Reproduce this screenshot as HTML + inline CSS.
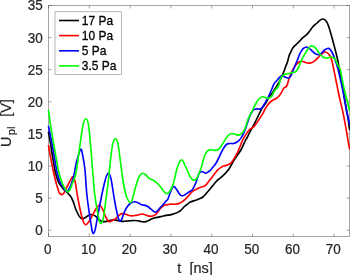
<!DOCTYPE html><html><head><meta charset="utf-8"><style>html,body{margin:0;padding:0;background:#fff;overflow:hidden}svg{display:block;will-change:transform}</style></head><body><svg width="350" height="275" viewBox="0 0 350 275" font-family="Liberation Sans, sans-serif">
<rect width="350" height="275" fill="#fff"/>
<g fill="none" stroke="#262626" stroke-width="0.55" stroke-opacity="0.75">
<path d="M48.5 236.5H349.5M48.5 5.5H349.5M48.5 5.5V236.5M349.5 5.5V236.5"/>
<path d="M48.50 236.5v-3M48.50 5.5v3M89.30 236.5v-3M89.30 5.5v3M130.10 236.5v-3M130.10 5.5v3M170.90 236.5v-3M170.90 5.5v3M211.70 236.5v-3M211.70 5.5v3M252.50 236.5v-3M252.50 5.5v3M293.30 236.5v-3M293.30 5.5v3M334.10 236.5v-3M334.10 5.5v3M48.5 230.20h3M349.5 230.20h-3M48.5 198.10h3M349.5 198.10h-3M48.5 166.00h3M349.5 166.00h-3M48.5 133.90h3M349.5 133.90h-3M48.5 101.80h3M349.5 101.80h-3M48.5 69.70h3M349.5 69.70h-3M48.5 37.60h3M349.5 37.60h-3M48.5 5.50h3M349.5 5.50h-3"/>
</g>
<g fill="none" stroke-width="1.65" stroke-linejoin="round" stroke-linecap="round">
<path stroke="#000" d="M48.50 132.20 C48.75 133.58 49.45 137.20 50.00 140.50 C50.55 143.80 51.22 148.42 51.80 152.00 C52.38 155.58 52.92 158.67 53.50 162.00 C54.08 165.33 54.48 168.67 55.30 172.00 C56.12 175.33 57.48 179.75 58.40 182.00 C59.32 184.25 59.98 184.33 60.80 185.50 C61.62 186.67 62.40 188.03 63.30 189.00 C64.20 189.97 65.42 190.60 66.20 191.30 C66.98 192.00 67.38 192.48 68.00 193.20 C68.62 193.92 69.35 194.88 69.90 195.60 C70.45 196.32 70.73 196.45 71.30 197.50 C71.87 198.55 72.60 200.07 73.30 201.90 C74.00 203.73 75.05 207.18 75.50 208.50 C75.95 209.82 75.40 208.53 76.00 209.80 C76.60 211.07 78.05 214.60 79.10 216.10 C80.15 217.60 81.12 218.67 82.30 218.80 C83.48 218.93 84.78 217.62 86.20 216.90 C87.62 216.18 89.25 214.63 90.80 214.50 C92.35 214.37 94.07 215.18 95.50 216.10 C96.93 217.02 98.10 219.08 99.40 220.00 C100.70 220.92 101.73 221.47 103.30 221.60 C104.87 221.73 107.10 221.10 108.80 220.80 C110.50 220.50 112.13 219.87 113.50 219.80 C114.87 219.73 115.83 220.18 117.00 220.40 C118.17 220.62 119.33 220.95 120.50 221.10 C121.67 221.25 122.85 221.32 124.00 221.30 C125.15 221.28 126.25 221.10 127.40 221.00 C128.55 220.90 129.73 220.78 130.90 220.70 C132.07 220.62 133.23 220.48 134.40 220.50 C135.57 220.52 136.88 220.65 137.90 220.80 C138.92 220.95 139.65 221.23 140.50 221.40 C141.35 221.57 142.12 221.77 143.00 221.80 C143.88 221.83 144.85 221.82 145.80 221.60 C146.75 221.38 147.73 220.93 148.70 220.50 C149.67 220.07 150.53 219.45 151.60 219.00 C152.67 218.55 153.93 218.12 155.10 217.80 C156.27 217.48 157.43 217.35 158.60 217.10 C159.77 216.85 160.87 216.58 162.10 216.30 C163.33 216.02 164.67 215.63 166.00 215.40 C167.33 215.17 168.75 215.17 170.10 214.90 C171.45 214.63 172.75 214.27 174.10 213.80 C175.45 213.33 177.00 212.77 178.20 212.10 C179.40 211.43 180.28 210.70 181.30 209.80 C182.32 208.90 183.28 207.63 184.30 206.70 C185.32 205.77 186.38 204.97 187.40 204.20 C188.42 203.43 189.38 202.65 190.40 202.10 C191.42 201.55 192.48 201.25 193.50 200.90 C194.52 200.55 195.30 200.43 196.50 200.00 C197.70 199.57 199.63 198.80 200.70 198.30 C201.77 197.80 202.17 197.58 202.90 197.00 C203.63 196.42 204.27 195.72 205.10 194.80 C205.93 193.88 207.00 192.55 207.90 191.50 C208.80 190.45 209.67 189.50 210.50 188.50 C211.33 187.50 212.13 186.45 212.90 185.50 C213.67 184.55 214.37 183.65 215.10 182.80 C215.83 181.95 216.55 181.12 217.30 180.40 C218.05 179.68 218.83 179.12 219.60 178.50 C220.37 177.88 221.03 177.47 221.90 176.70 C222.77 175.93 223.93 174.80 224.80 173.90 C225.67 173.00 226.40 172.12 227.10 171.30 C227.80 170.48 228.17 170.30 229.00 169.00 C229.83 167.70 231.10 165.23 232.10 163.50 C233.10 161.77 233.58 160.77 235.00 158.60 C236.42 156.43 238.95 153.35 240.60 150.50 C242.25 147.65 243.82 143.67 244.90 141.50 C245.98 139.33 246.37 138.90 247.10 137.50 C247.83 136.10 248.48 134.65 249.30 133.10 C250.12 131.55 251.08 129.92 252.00 128.20 C252.92 126.48 253.88 124.62 254.80 122.80 C255.72 120.98 256.60 119.13 257.50 117.30 C258.40 115.47 259.45 113.30 260.20 111.80 C260.95 110.30 261.07 109.77 262.00 108.30 C262.93 106.83 264.75 104.63 265.80 103.00 C266.85 101.37 267.35 99.98 268.30 98.50 C269.25 97.02 270.53 95.48 271.50 94.10 C272.47 92.72 273.25 91.48 274.10 90.20 C274.95 88.92 275.70 87.85 276.60 86.40 C277.50 84.95 278.55 83.32 279.50 81.50 C280.45 79.68 281.47 77.43 282.30 75.50 C283.13 73.57 283.85 71.63 284.50 69.90 C285.15 68.17 285.70 66.42 286.20 65.10 C286.70 63.78 287.03 63.52 287.50 62.00 C287.97 60.48 288.50 57.57 289.00 56.00 C289.50 54.43 289.83 53.98 290.50 52.60 C291.17 51.22 292.03 49.07 293.00 47.70 C293.97 46.33 295.13 45.55 296.30 44.40 C297.47 43.25 299.05 41.80 300.00 40.80 C300.95 39.80 301.25 39.13 302.00 38.40 C302.75 37.67 303.65 37.10 304.50 36.40 C305.35 35.70 306.27 35.05 307.10 34.20 C307.93 33.35 308.78 32.23 309.50 31.30 C310.22 30.37 310.82 29.40 311.40 28.60 C311.98 27.80 312.40 27.17 313.00 26.50 C313.60 25.83 314.32 25.18 315.00 24.60 C315.68 24.02 316.30 23.72 317.10 23.00 C317.90 22.28 318.90 20.97 319.80 20.30 C320.70 19.63 321.68 19.12 322.50 19.00 C323.32 18.88 324.03 19.17 324.70 19.60 C325.37 20.03 325.83 20.47 326.50 21.60 C327.17 22.73 327.88 24.08 328.70 26.40 C329.52 28.72 330.57 32.57 331.40 35.50 C332.23 38.43 332.95 41.17 333.70 44.00 C334.45 46.83 335.18 49.62 335.90 52.50 C336.62 55.38 337.50 58.88 338.00 61.30 C338.50 63.72 338.42 64.13 338.90 67.00 C339.38 69.87 340.20 74.75 340.90 78.50 C341.60 82.25 342.43 85.83 343.10 89.50 C343.77 93.17 344.33 97.08 344.90 100.50 C345.47 103.92 345.97 107.00 346.50 110.00 C347.03 113.00 347.60 115.25 348.10 118.50 C348.60 121.75 349.27 127.67 349.50 129.50"/>
<path stroke="#ff0000" d="M48.50 145.50 C48.68 146.58 49.10 149.25 49.60 152.00 C50.10 154.75 50.85 158.67 51.50 162.00 C52.15 165.33 52.77 168.67 53.50 172.00 C54.23 175.33 55.20 179.33 55.90 182.00 C56.60 184.67 57.10 186.13 57.70 188.00 C58.30 189.87 58.80 192.10 59.50 193.20 C60.20 194.30 61.18 194.60 61.90 194.60 C62.62 194.60 63.08 194.22 63.80 193.20 C64.52 192.18 65.42 190.07 66.20 188.50 C66.98 186.93 67.72 185.30 68.50 183.80 C69.28 182.30 70.18 180.68 70.90 179.50 C71.62 178.32 72.12 176.45 72.80 176.70 C73.48 176.95 74.22 177.78 75.00 181.00 C75.78 184.22 76.67 191.33 77.50 196.00 C78.33 200.67 79.08 204.87 80.00 209.00 C80.92 213.13 82.10 218.18 83.00 220.80 C83.90 223.42 84.48 224.45 85.40 224.70 C86.32 224.95 87.33 223.87 88.50 222.30 C89.67 220.73 91.10 217.63 92.40 215.30 C93.70 212.97 95.13 209.98 96.30 208.30 C97.47 206.62 98.35 205.07 99.40 205.20 C100.45 205.33 101.55 207.15 102.60 209.10 C103.65 211.05 104.67 214.82 105.70 216.90 C106.73 218.98 107.77 220.95 108.80 221.60 C109.83 222.25 110.70 221.33 111.90 220.80 C113.10 220.27 114.35 219.60 116.00 218.40 C117.65 217.20 119.38 214.03 121.80 213.60 C124.22 213.17 128.13 215.50 130.50 215.80 C132.87 216.10 134.42 215.65 136.00 215.40 C137.58 215.15 138.95 214.53 140.00 214.30 C141.05 214.07 141.43 213.93 142.30 214.00 C143.17 214.07 144.23 214.38 145.20 214.70 C146.17 215.02 147.13 215.63 148.10 215.90 C149.07 216.17 150.02 216.37 151.00 216.30 C151.98 216.23 153.02 216.02 154.00 215.50 C154.98 214.98 155.93 214.27 156.90 213.20 C157.87 212.13 158.83 210.27 159.80 209.10 C160.77 207.93 161.73 206.88 162.70 206.20 C163.67 205.52 164.63 205.28 165.60 205.00 C166.57 204.72 167.75 204.63 168.50 204.50 C169.25 204.37 169.17 204.25 170.10 204.20 C171.03 204.15 172.92 204.25 174.10 204.20 C175.28 204.15 176.27 204.07 177.20 203.90 C178.13 203.73 178.85 203.58 179.70 203.20 C180.55 202.82 181.45 202.20 182.30 201.60 C183.15 201.00 184.03 200.27 184.80 199.60 C185.57 198.93 186.22 198.28 186.90 197.60 C187.58 196.92 188.05 196.47 188.90 195.50 C189.75 194.53 190.62 192.93 192.00 191.80 C193.38 190.67 195.75 189.47 197.20 188.70 C198.65 187.93 199.53 187.62 200.70 187.20 C201.87 186.78 203.25 186.67 204.20 186.20 C205.15 185.73 205.68 185.13 206.40 184.40 C207.12 183.67 207.78 182.72 208.50 181.80 C209.22 180.88 209.97 179.87 210.70 178.90 C211.43 177.93 212.17 176.97 212.90 176.00 C213.63 175.03 214.28 174.12 215.10 173.10 C215.92 172.08 216.87 170.82 217.80 169.90 C218.73 168.98 219.73 168.23 220.70 167.60 C221.67 166.97 222.53 166.52 223.60 166.10 C224.67 165.68 225.87 165.63 227.10 165.10 C228.33 164.57 229.62 164.35 231.00 162.90 C232.38 161.45 234.12 158.58 235.40 156.40 C236.68 154.22 237.52 152.47 238.70 149.80 C239.88 147.13 241.10 143.27 242.50 140.40 C243.90 137.53 245.88 134.45 247.10 132.60 C248.32 130.75 248.88 130.12 249.80 129.30 C250.72 128.48 251.68 128.43 252.60 127.70 C253.52 126.97 254.40 126.00 255.30 124.90 C256.20 123.80 257.08 122.47 258.00 121.10 C258.92 119.73 259.88 118.15 260.80 116.70 C261.72 115.25 262.88 113.52 263.50 112.40 C264.12 111.28 263.80 111.25 264.50 110.00 C265.20 108.75 266.53 106.40 267.70 104.90 C268.87 103.40 270.12 102.07 271.50 101.00 C272.88 99.93 274.73 99.33 276.00 98.50 C277.27 97.67 278.15 97.05 279.10 96.00 C280.05 94.95 280.95 93.48 281.70 92.20 C282.45 90.92 282.77 89.33 283.60 88.30 C284.43 87.27 285.83 87.47 286.70 86.00 C287.57 84.53 288.08 81.62 288.80 79.50 C289.52 77.38 290.27 75.05 291.00 73.30 C291.73 71.55 292.53 70.22 293.20 69.00 C293.87 67.78 294.43 66.78 295.00 66.00 C295.57 65.22 295.98 64.92 296.60 64.30 C297.22 63.68 297.93 62.80 298.70 62.30 C299.47 61.80 300.27 61.38 301.20 61.30 C302.13 61.22 303.45 61.55 304.30 61.80 C305.15 62.05 305.62 62.58 306.30 62.80 C306.98 63.02 307.65 63.08 308.40 63.10 C309.15 63.12 309.98 63.10 310.80 62.90 C311.62 62.70 312.47 62.40 313.30 61.90 C314.13 61.40 314.95 60.67 315.80 59.90 C316.65 59.13 317.58 58.15 318.40 57.30 C319.22 56.45 319.55 55.68 320.70 54.80 C321.85 53.92 323.80 51.92 325.30 52.00 C326.80 52.08 328.60 53.83 329.70 55.30 C330.80 56.77 331.18 58.25 331.90 60.80 C332.62 63.35 333.28 67.15 334.00 70.60 C334.72 74.05 335.47 77.85 336.20 81.50 C336.93 85.15 337.68 89.08 338.40 92.50 C339.12 95.92 339.77 98.80 340.50 102.00 C341.23 105.20 341.87 107.18 342.80 111.70 C343.73 116.22 345.18 124.02 346.10 129.10 C347.02 134.18 347.73 138.93 348.30 142.20 C348.87 145.47 349.30 147.62 349.50 148.70"/>
<path stroke="#0000ff" d="M48.50 126.40 C48.97 128.67 50.47 135.73 51.30 140.00 C52.13 144.27 52.85 148.33 53.50 152.00 C54.15 155.67 54.62 158.67 55.20 162.00 C55.78 165.33 56.20 168.67 57.00 172.00 C57.80 175.33 59.13 179.75 60.00 182.00 C60.87 184.25 61.42 184.18 62.20 185.50 C62.98 186.82 63.97 188.93 64.70 189.90 C65.43 190.87 65.97 191.30 66.60 191.30 C67.23 191.30 67.87 190.75 68.50 189.90 C69.13 189.05 69.82 187.52 70.40 186.20 C70.98 184.88 71.40 183.87 72.00 182.00 C72.60 180.13 73.25 178.33 74.00 175.00 C74.75 171.67 75.38 166.28 76.50 162.00 C77.62 157.72 79.62 150.13 80.70 149.30 C81.78 148.47 82.28 153.55 83.00 157.00 C83.72 160.45 84.35 163.67 85.00 170.00 C85.65 176.33 86.05 186.93 86.90 195.00 C87.75 203.07 89.37 213.23 90.10 218.40 C90.83 223.57 90.93 223.82 91.30 226.00 C91.67 228.18 91.97 230.23 92.30 231.50 C92.63 232.77 92.95 233.52 93.30 233.60 C93.65 233.68 94.02 233.00 94.40 232.00 C94.78 231.00 94.88 231.17 95.60 227.60 C96.32 224.03 97.67 216.03 98.70 210.60 C99.73 205.17 100.85 199.55 101.80 195.00 C102.75 190.45 103.62 186.47 104.40 183.30 C105.18 180.13 105.78 177.70 106.50 176.00 C107.22 174.30 108.03 172.93 108.70 173.10 C109.37 173.27 110.02 175.55 110.50 177.00 C110.98 178.45 110.93 177.97 111.60 181.80 C112.27 185.63 113.70 195.30 114.50 200.00 C115.30 204.70 115.80 207.08 116.40 210.00 C117.00 212.92 117.63 215.80 118.10 217.50 C118.57 219.20 118.85 219.58 119.20 220.20 C119.55 220.82 119.87 221.18 120.20 221.20 C120.53 221.22 120.87 220.82 121.20 220.30 C121.53 219.78 121.65 219.53 122.20 218.10 C122.75 216.67 123.63 213.63 124.50 211.70 C125.37 209.77 126.33 207.95 127.40 206.50 C128.47 205.05 129.73 203.78 130.90 203.00 C132.07 202.22 133.23 201.85 134.40 201.80 C135.57 201.75 136.97 202.35 137.90 202.70 C138.83 203.05 139.27 203.52 140.00 203.90 C140.73 204.28 141.43 204.75 142.30 205.00 C143.17 205.25 144.23 205.10 145.20 205.40 C146.17 205.70 147.13 206.18 148.10 206.80 C149.07 207.42 150.12 208.37 151.00 209.10 C151.88 209.83 152.62 210.68 153.40 211.20 C154.18 211.72 154.93 212.35 155.70 212.20 C156.47 212.05 157.13 211.20 158.00 210.30 C158.87 209.40 159.93 207.87 160.90 206.80 C161.87 205.73 162.92 204.87 163.80 203.90 C164.68 202.93 165.50 201.85 166.20 201.00 C166.90 200.15 167.28 200.30 168.00 198.80 C168.72 197.30 169.78 193.80 170.50 192.00 C171.22 190.20 171.68 188.90 172.30 188.00 C172.92 187.10 173.48 186.33 174.20 186.60 C174.92 186.87 175.68 188.32 176.60 189.60 C177.52 190.88 178.77 193.25 179.70 194.30 C180.63 195.35 181.27 195.87 182.20 195.90 C183.13 195.93 184.17 195.15 185.30 194.50 C186.43 193.85 187.87 192.75 189.00 192.00 C190.13 191.25 191.18 191.02 192.10 190.00 C193.02 188.98 193.77 187.40 194.50 185.90 C195.23 184.40 195.68 183.18 196.50 181.00 C197.32 178.82 198.38 174.35 199.40 172.80 C200.42 171.25 201.52 171.63 202.60 171.70 C203.68 171.77 204.62 173.42 205.90 173.20 C207.18 172.98 209.20 171.33 210.30 170.40 C211.40 169.47 211.67 168.63 212.50 167.60 C213.33 166.57 214.42 165.47 215.30 164.20 C216.18 162.93 216.95 161.63 217.80 160.00 C218.65 158.37 219.55 156.18 220.40 154.40 C221.25 152.62 221.97 150.88 222.90 149.30 C223.83 147.72 225.05 145.85 226.00 144.90 C226.95 143.95 227.75 143.83 228.60 143.60 C229.45 143.37 230.25 143.52 231.10 143.50 C231.95 143.48 232.85 143.67 233.70 143.50 C234.55 143.33 235.35 142.98 236.20 142.50 C237.05 142.02 237.95 141.42 238.80 140.60 C239.65 139.78 240.47 138.88 241.30 137.60 C242.13 136.32 243.03 134.53 243.80 132.90 C244.57 131.27 245.08 130.13 245.90 127.80 C246.72 125.47 247.87 121.28 248.70 118.90 C249.53 116.52 250.15 114.95 250.90 113.50 C251.65 112.05 252.52 110.92 253.20 110.20 C253.88 109.48 254.35 109.42 255.00 109.20 C255.65 108.98 256.38 108.92 257.10 108.90 C257.82 108.88 258.57 109.20 259.30 109.10 C260.03 109.00 260.78 108.93 261.50 108.30 C262.22 107.67 262.88 106.42 263.60 105.30 C264.32 104.18 265.10 102.82 265.80 101.60 C266.50 100.38 267.17 99.25 267.80 98.00 C268.43 96.75 268.87 95.72 269.60 94.10 C270.33 92.48 271.47 90.02 272.20 88.30 C272.93 86.58 273.27 85.05 274.00 83.80 C274.73 82.55 275.73 81.82 276.60 80.80 C277.47 79.78 278.32 78.57 279.20 77.70 C280.08 76.83 281.10 75.78 281.90 75.60 C282.70 75.42 283.28 76.28 284.00 76.60 C284.72 76.92 285.40 77.27 286.20 77.50 C287.00 77.73 288.07 78.18 288.80 78.00 C289.53 77.82 290.02 77.32 290.60 76.40 C291.18 75.48 291.80 73.67 292.30 72.50 C292.80 71.33 293.05 70.77 293.60 69.40 C294.15 68.03 294.92 66.00 295.60 64.30 C296.28 62.60 297.02 60.90 297.70 59.20 C298.38 57.50 299.03 55.53 299.70 54.10 C300.37 52.67 301.10 51.53 301.70 50.60 C302.30 49.67 302.63 49.07 303.30 48.50 C303.97 47.93 304.88 47.33 305.70 47.20 C306.52 47.07 307.35 47.28 308.20 47.70 C309.05 48.12 309.95 48.95 310.80 49.70 C311.65 50.45 312.38 51.43 313.30 52.20 C314.22 52.97 315.37 53.90 316.30 54.30 C317.23 54.70 318.05 54.75 318.90 54.60 C319.75 54.45 320.40 54.22 321.40 53.40 C322.40 52.58 323.67 50.53 324.90 49.70 C326.13 48.87 327.63 48.02 328.80 48.40 C329.97 48.78 330.85 50.12 331.90 52.00 C332.95 53.88 334.02 56.60 335.10 59.70 C336.18 62.80 337.48 67.15 338.40 70.60 C339.32 74.05 339.87 77.12 340.60 80.40 C341.33 83.68 342.13 86.98 342.80 90.30 C343.47 93.62 344.02 97.10 344.60 100.30 C345.18 103.50 345.77 106.80 346.30 109.50 C346.83 112.20 347.27 114.08 347.80 116.50 C348.33 118.92 349.22 122.75 349.50 124.00"/>
<path stroke="#00ff00" d="M48.50 110.50 C48.83 112.92 49.75 120.08 50.50 125.00 C51.25 129.92 52.23 135.50 53.00 140.00 C53.77 144.50 54.45 148.33 55.10 152.00 C55.75 155.67 56.30 158.67 56.90 162.00 C57.50 165.33 57.88 168.67 58.70 172.00 C59.52 175.33 61.03 179.72 61.80 182.00 C62.57 184.28 62.65 184.38 63.30 185.70 C63.95 187.02 64.98 188.88 65.70 189.90 C66.42 190.92 66.97 191.72 67.60 191.80 C68.23 191.88 68.95 191.10 69.50 190.40 C70.05 189.70 70.40 188.83 70.90 187.60 C71.40 186.37 71.73 185.10 72.50 183.00 C73.27 180.90 74.67 178.33 75.50 175.00 C76.33 171.67 76.75 168.00 77.50 163.00 C78.25 158.00 79.08 151.33 80.00 145.00 C80.92 138.67 82.02 129.38 83.00 125.00 C83.98 120.62 84.98 118.70 85.90 118.70 C86.82 118.70 87.65 119.78 88.50 125.00 C89.35 130.22 90.25 141.67 91.00 150.00 C91.75 158.33 92.37 167.50 93.00 175.00 C93.63 182.50 93.98 188.53 94.80 195.00 C95.62 201.47 97.00 209.13 97.90 213.80 C98.80 218.47 99.30 222.23 100.20 223.00 C101.10 223.77 102.37 222.23 103.30 218.40 C104.23 214.57 105.13 204.88 105.80 200.00 C106.47 195.12 106.87 192.37 107.30 189.10 C107.73 185.83 108.07 183.25 108.40 180.40 C108.73 177.55 108.95 175.38 109.30 172.00 C109.65 168.62 110.12 163.60 110.50 160.10 C110.88 156.60 111.20 153.83 111.60 151.00 C112.00 148.17 112.43 145.03 112.90 143.10 C113.37 141.17 113.97 140.12 114.40 139.40 C114.83 138.68 115.10 138.70 115.50 138.80 C115.90 138.90 116.37 139.07 116.80 140.00 C117.23 140.93 117.67 142.13 118.10 144.40 C118.53 146.67 119.02 150.77 119.40 153.60 C119.78 156.43 120.08 159.02 120.40 161.40 C120.72 163.78 120.88 164.80 121.30 167.90 C121.72 171.00 122.12 175.48 122.90 180.00 C123.68 184.52 124.73 191.22 126.00 195.00 C127.27 198.78 129.28 202.57 130.50 202.70 C131.72 202.83 132.38 198.65 133.30 195.80 C134.22 192.95 135.05 188.73 136.00 185.60 C136.95 182.47 137.92 179.05 139.00 177.00 C140.08 174.95 141.33 173.63 142.50 173.30 C143.67 172.97 144.90 174.17 146.00 175.00 C147.10 175.83 147.68 177.32 149.10 178.30 C150.52 179.28 152.85 179.78 154.50 180.90 C156.15 182.02 157.57 183.42 159.00 185.00 C160.43 186.58 161.68 188.97 163.10 190.40 C164.52 191.83 165.87 194.52 167.50 193.60 C169.13 192.68 171.27 189.25 172.90 184.90 C174.53 180.55 175.85 171.68 177.30 167.50 C178.75 163.32 180.15 159.80 181.60 159.80 C183.05 159.80 184.53 164.58 186.00 167.50 C187.47 170.42 189.13 175.20 190.40 177.30 C191.67 179.40 192.50 179.98 193.60 180.10 C194.70 180.22 195.67 180.25 197.00 178.00 C198.33 175.75 200.58 169.50 201.60 166.60 C202.62 163.70 202.52 162.62 203.10 160.60 C203.68 158.58 204.35 156.12 205.10 154.50 C205.85 152.88 206.75 151.72 207.60 150.90 C208.45 150.08 209.35 149.75 210.20 149.60 C211.05 149.45 211.85 149.87 212.70 150.00 C213.55 150.13 214.45 150.43 215.30 150.40 C216.15 150.37 216.95 150.33 217.80 149.80 C218.65 149.27 219.62 148.17 220.40 147.20 C221.18 146.23 221.90 144.93 222.50 144.00 C223.10 143.07 223.33 142.67 224.00 141.60 C224.67 140.53 225.65 138.77 226.50 137.60 C227.35 136.43 228.25 135.28 229.10 134.60 C229.95 133.92 230.75 133.62 231.60 133.50 C232.45 133.38 233.35 133.67 234.20 133.90 C235.05 134.13 235.85 134.73 236.70 134.90 C237.55 135.07 238.45 135.15 239.30 134.90 C240.15 134.65 241.05 134.08 241.80 133.40 C242.55 132.72 243.12 131.98 243.80 130.80 C244.48 129.62 245.25 128.10 245.90 126.30 C246.55 124.50 247.05 121.78 247.70 120.00 C248.35 118.22 249.08 117.02 249.80 115.60 C250.52 114.18 251.30 112.90 252.00 111.50 C252.70 110.10 253.30 108.62 254.00 107.20 C254.70 105.78 255.47 104.27 256.20 103.00 C256.93 101.73 257.67 100.50 258.40 99.60 C259.13 98.70 259.87 98.07 260.60 97.60 C261.33 97.13 262.07 96.83 262.80 96.80 C263.53 96.77 264.25 97.13 265.00 97.40 C265.75 97.67 266.22 98.53 267.30 98.40 C268.38 98.27 270.37 97.75 271.50 96.60 C272.63 95.45 272.95 93.27 274.10 91.50 C275.25 89.73 277.40 87.87 278.40 86.00 C279.40 84.13 279.52 81.90 280.10 80.30 C280.68 78.70 281.25 77.33 281.90 76.40 C282.55 75.47 283.13 75.13 284.00 74.70 C284.87 74.27 286.08 74.03 287.10 73.80 C288.12 73.57 289.18 73.50 290.10 73.30 C291.02 73.10 291.77 72.82 292.60 72.60 C293.43 72.38 294.35 72.45 295.10 72.00 C295.85 71.55 296.50 70.75 297.10 69.90 C297.70 69.05 298.18 68.00 298.70 66.90 C299.22 65.80 299.70 64.50 300.20 63.30 C300.70 62.10 301.18 60.80 301.70 59.70 C302.22 58.60 302.70 57.80 303.30 56.70 C303.90 55.60 304.63 54.22 305.30 53.10 C305.97 51.98 306.70 50.85 307.30 50.00 C307.90 49.15 308.32 48.65 308.90 48.00 C309.48 47.35 310.07 46.38 310.80 46.10 C311.53 45.82 312.47 45.95 313.30 46.30 C314.13 46.65 315.03 47.38 315.80 48.20 C316.57 49.02 317.20 50.18 317.90 51.20 C318.60 52.22 319.12 53.33 320.00 54.30 C320.88 55.27 322.28 56.38 323.20 57.00 C324.12 57.62 324.73 57.83 325.50 58.00 C326.27 58.17 326.92 58.17 327.80 58.00 C328.68 57.83 329.82 57.00 330.80 57.00 C331.78 57.00 332.85 57.42 333.70 58.00 C334.55 58.58 335.18 59.23 335.90 60.50 C336.62 61.77 337.40 64.43 338.00 65.60 C338.60 66.77 339.07 66.60 339.50 67.50 C339.93 68.40 340.08 68.63 340.60 71.00 C341.12 73.37 341.78 77.73 342.60 81.70 C343.42 85.67 344.70 91.50 345.50 94.80 C346.30 98.10 346.73 98.88 347.40 101.50 C348.07 104.12 349.15 109.00 349.50 110.50"/>
</g>
<text transform="translate(47.70,254.30) scale(0.9,1.0)" font-size="15.0" text-anchor="middle" fill="#262626" stroke="#262626" stroke-width="0.25">0</text>
<text transform="translate(88.50,254.30) scale(0.9,1.0)" font-size="15.0" text-anchor="middle" fill="#262626" stroke="#262626" stroke-width="0.25">10</text>
<text transform="translate(129.30,254.30) scale(0.9,1.0)" font-size="15.0" text-anchor="middle" fill="#262626" stroke="#262626" stroke-width="0.25">20</text>
<text transform="translate(170.10,254.30) scale(0.9,1.0)" font-size="15.0" text-anchor="middle" fill="#262626" stroke="#262626" stroke-width="0.25">30</text>
<text transform="translate(210.90,254.30) scale(0.9,1.0)" font-size="15.0" text-anchor="middle" fill="#262626" stroke="#262626" stroke-width="0.25">40</text>
<text transform="translate(251.70,254.30) scale(0.9,1.0)" font-size="15.0" text-anchor="middle" fill="#262626" stroke="#262626" stroke-width="0.25">50</text>
<text transform="translate(292.50,254.30) scale(0.9,1.0)" font-size="15.0" text-anchor="middle" fill="#262626" stroke="#262626" stroke-width="0.25">60</text>
<text transform="translate(333.30,254.30) scale(0.9,1.0)" font-size="15.0" text-anchor="middle" fill="#262626" stroke="#262626" stroke-width="0.25">70</text>
<text transform="translate(42.80,235.10) scale(0.9,1.0)" font-size="15.0" text-anchor="end" fill="#262626" stroke="#262626" stroke-width="0.25">0</text>
<text transform="translate(42.80,203.00) scale(0.9,1.0)" font-size="15.0" text-anchor="end" fill="#262626" stroke="#262626" stroke-width="0.25">5</text>
<text transform="translate(42.80,170.90) scale(0.9,1.0)" font-size="15.0" text-anchor="end" fill="#262626" stroke="#262626" stroke-width="0.25">10</text>
<text transform="translate(42.80,138.80) scale(0.9,1.0)" font-size="15.0" text-anchor="end" fill="#262626" stroke="#262626" stroke-width="0.25">15</text>
<text transform="translate(42.80,106.70) scale(0.9,1.0)" font-size="15.0" text-anchor="end" fill="#262626" stroke="#262626" stroke-width="0.25">20</text>
<text transform="translate(42.80,74.60) scale(0.9,1.0)" font-size="15.0" text-anchor="end" fill="#262626" stroke="#262626" stroke-width="0.25">25</text>
<text transform="translate(42.80,42.50) scale(0.9,1.0)" font-size="15.0" text-anchor="end" fill="#262626" stroke="#262626" stroke-width="0.25">30</text>
<text transform="translate(42.80,10.40) scale(0.9,1.0)" font-size="15.0" text-anchor="end" fill="#262626" stroke="#262626" stroke-width="0.25">35</text>
<text transform="translate(177.30,273.00) scale(0.97,1)" font-size="15" text-anchor="start" fill="#262626" xml:space="preserve" style="white-space:pre" stroke="#262626" stroke-width="0.2">t  [ns]</text>
<g transform="translate(10.9,146.9) rotate(-90) scale(0.96,1)"><text font-size="15" fill="#262626" stroke="#262626" stroke-width="0.2" x="0" y="0" xml:space="preserve" style="white-space:pre">U<tspan font-size="11.5" dy="4.2" dx="1.4">pl</tspan><tspan dy="-4.2" dx="6"> [V]</tspan></text></g>
<rect x="55" y="11.8" width="66.4" height="62.5" fill="#fff" stroke="#262626" stroke-opacity="0.6" stroke-width="0.55"/>
<path d="M59 20.5H79" stroke="#000" stroke-width="1.6"/>
<text transform="translate(81.80,24.90) scale(0.92,1.05)" font-size="13" text-anchor="start" fill="#000" stroke="#000" stroke-width="0.3">17 Pa</text>
<path d="M59 35.6H79" stroke="#ff0000" stroke-width="1.6"/>
<text transform="translate(81.80,40.00) scale(0.92,1.05)" font-size="13" text-anchor="start" fill="#000" stroke="#000" stroke-width="0.3">10 Pa</text>
<path d="M59 50.8H79" stroke="#0000ff" stroke-width="1.6"/>
<text transform="translate(81.80,55.20) scale(0.92,1.05)" font-size="13" text-anchor="start" fill="#000" stroke="#000" stroke-width="0.3">5 Pa</text>
<path d="M59 65.9H79" stroke="#00ff00" stroke-width="1.6"/>
<text transform="translate(81.80,70.30) scale(0.92,1.05)" font-size="13" text-anchor="start" fill="#000" stroke="#000" stroke-width="0.3">3.5 Pa</text>
</svg></body></html>
